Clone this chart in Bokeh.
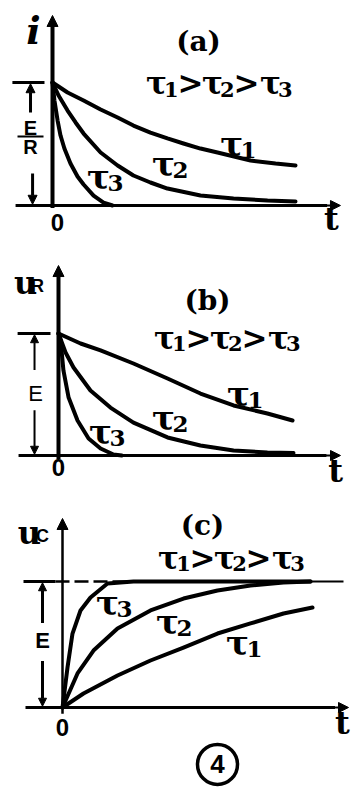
from bokeh.plotting import figure
from bokeh.layouts import column
from bokeh.models import Arrow, NormalHead, Range1d
from bokeh.core.properties import value
from bokeh.embed import file_html
from bokeh.resources import INLINE

# ---------------- data (E/R = E = 1, t in arbitrary units) -------------
# (a) current i
t_a1 = [0, 0.62, 1.28, 1.98, 2.68, 3.33, 4.03, 4.73, 5.39, 6.09, 6.79, 8.15, 9.18, 10.0]
i_a1 = [1.0, 0.919, 0.854, 0.780, 0.715, 0.650, 0.593, 0.545, 0.504, 0.463, 0.431, 0.366, 0.341, 0.325]
t_a2 = [0, 0.25, 0.62, 0.95, 1.28, 1.98, 2.68, 3.33, 4.03, 4.73, 6.09, 7.45, 8.85, 10.0]
i_a2 = [1.0, 0.894, 0.772, 0.675, 0.585, 0.431, 0.325, 0.244, 0.187, 0.138, 0.081, 0.057, 0.041, 0.033]
t_a3 = [0, 0.08, 0.21, 0.33, 0.49, 0.74, 1.03, 1.28, 1.69, 2.10, 2.47]
i_a3 = [1.0, 0.854, 0.691, 0.569, 0.463, 0.341, 0.236, 0.171, 0.081, 0.024, 0.0]

# (b) resistor voltage uR
t_b1 = [0, 0.94, 1.79, 3.19, 4.64, 6.04, 7.45, 8.89, 9.96]
u_b1 = [1.0, 0.918, 0.861, 0.754, 0.631, 0.508, 0.410, 0.344, 0.287]
t_b2 = [0, 0.30, 0.64, 1.36, 2.21, 3.19, 4.64, 6.04, 7.45, 8.89, 10.0]
u_b2 = [1.0, 0.844, 0.721, 0.533, 0.393, 0.270, 0.148, 0.082, 0.041, 0.025, 0.020]
t_b3 = [0, 0.09, 0.21, 0.43, 0.81, 1.28, 1.79, 2.34, 2.70]
u_b3 = [1.0, 0.943, 0.697, 0.475, 0.287, 0.139, 0.057, 0.008, 0.0]

# (c) capacitor voltage uC
t_c1 = [0, 0.84, 2.2, 3.52, 4.84, 6.2, 7.52, 8.84, 10.0]
u_c1 = [0, 0.111, 0.254, 0.373, 0.476, 0.587, 0.667, 0.746, 0.794]
t_c2 = [0, 0.6, 1.24, 2.2, 3.52, 4.84, 6.2, 7.52, 8.84, 9.92]
u_c2 = [0, 0.27, 0.452, 0.627, 0.77, 0.865, 0.929, 0.968, 0.992, 1.0]
t_c3 = [0, 0.2, 0.4, 0.72, 1.12, 1.8, 2.84, 9.92]
u_c3 = [0, 0.317, 0.587, 0.770, 0.873, 0.984, 1.0, 1.0]

panel_titles = ["(a)", "(b)", "(c)"]
tau_names = ["1", "2", "3"]

SERIF = "DejaVu Serif"
SANS = "Liberation Sans"
CW = 4  # curve width


def base_fig(h, xr, yr):
    p = figure(width=356, height=h, x_range=Range1d(*xr), y_range=Range1d(*yr),
               output_backend="svg", toolbar_location=None, min_border=0,
               x_axis_type=None, y_axis_type=None)
    p.grid.visible = False
    p.outline_line_color = None
    p.background_fill_color = "white"
    p.border_fill_color = "white"
    return p


def txt(p, x, y, s, size, font=SERIF, style="bold", xo=0, yo=0, align="center"):
    p.text(x=[x], y=[y], text=[s], text_font=value(font), text_font_size=f"{size}px",
           text_font_style=style, text_align=align, text_baseline="middle",
           x_offset=xo, y_offset=yo, text_color="black")


def arrow(p, x0, y0, x1, y1, w=3, size=10):
    p.add_layout(Arrow(end=NormalHead(size=size, fill_color="black", line_color="black", line_width=1),
                       x_start=x0, y_start=y0, x_end=x1, y_end=y1,
                       line_width=w, line_color="black"))


def tau(p, x, y, d, size=34, xo=0, yo=0):
    txt(p, x, y, "τ", size, xo=xo, yo=yo)
    txt(p, x, y, d, int(size * 0.68), xo=xo + int(size * 0.5), yo=yo + 6)


def ineq(p, x, y, size=31):
    tau(p, x, y, tau_names[0], size, xo=-64)
    txt(p, x, y, ">", size, xo=-30)
    tau(p, x, y, tau_names[1], size, xo=-8)
    txt(p, x, y, ">", size, xo=26)
    tau(p, x, y, tau_names[2], size, xo=50)


def curves(p, ts, vs):
    for t, v in zip(ts, vs):
        p.line(t, v, line_width=CW, line_color="black", line_cap="round", line_join="round")


# ---------------- panel (a) ----------------
pa = base_fig(245, (-2.14, 12.51), (-0.3252, 1.6667))
pa.line([-1.52, 11.3], [0, 0], line_width=3, line_color="black")
arrow(pa, 10.5, 0, 11.85, 0, w=2, size=10)
arrow(pa, 0, -0.02, 0, 1.545, w=4, size=11)
pa.line([-1.65, -0.33], [1, 1], line_width=3, line_color="black")
arrow(pa, -0.905, 0.756, -0.905, 0.99, w=3, size=9)
arrow(pa, -0.82, 0.26, -0.82, 0.01, w=3, size=9)
pa.line([-1.44, -0.37], [0.561, 0.561], line_width=2, line_color="black")
txt(pa, -0.905, 0.634, "E", 20, font=SANS)
txt(pa, -0.905, 0.472, "R", 20, font=SANS)
curves(pa, [t_a1, t_a2, t_a3], [i_a1, i_a2, i_a3])
txt(pa, 0.2, -0.138, "0", 24, font=SANS)
txt(pa, 11.48, -0.106, "t", 32)
txt(pa, -0.78, 1.423, "i", 38, style="bold italic")
txt(pa, 6.01, 1.333, panel_titles[0], 28)
ineq(pa, 6.91, 0.992)
tau(pa, 7.37, 0.504, tau_names[0])
tau(pa, 4.57, 0.341, tau_names[1])
tau(pa, 1.89, 0.228, tau_names[2])

# ---------------- panel (b) ----------------
pb = base_fig(250, (-2.468, 12.681), (-0.3279, 1.7213))
pb.line([-1.70, 11.4], [0, 0], line_width=3, line_color="black")
arrow(pb, 10.5, 0, 12.0, 0, w=2, size=10)
arrow(pb, 0, -0.03, 0, 1.557, w=4, size=11)
pb.line([-1.74, -0.34], [1, 1], line_width=3, line_color="black")
arrow(pb, -1.02, 0.70, -1.02, 0.99, w=2, size=8)
arrow(pb, -1.02, 0.37, -1.02, 0.01, w=2, size=8)
txt(pb, -0.98, 0.508, "E", 22, font=SANS, style="normal")
curves(pb, [t_b1, t_b2, t_b3], [u_b1, u_b2, u_b3])
txt(pb, 0.0, -0.098, "0", 24, font=SANS)
txt(pb, 11.79, -0.123, "t", 32)
txt(pb, -1.40, 1.418, "u", 32)
txt(pb, -0.89, 1.393, "R", 18, font=SANS)
txt(pb, 6.34, 1.270, panel_titles[1], 28)
ineq(pb, 7.23, 0.967)
tau(pb, 7.66, 0.5, tau_names[0])
tau(pb, 4.47, 0.311, tau_names[1])
tau(pb, 1.79, 0.189, tau_names[2])

# ---------------- panel (c) ----------------
pc = base_fig(313, (-2.48, 11.76), (-0.8016, 1.6825))
pc.line([-1.48, 10.9], [0, 0], line_width=3, line_color="black")
arrow(pc, 10.0, 0, 11.44, 0, w=2, size=10)
arrow(pc, 0, -0.05, 0, 1.50, w=2.5, size=11)
pc.line([-1.56, -0.28], [1, 1], line_width=3, line_color="black")
pc.line([-0.28, 3.0], [1, 1], line_width=2.5, line_color="black", line_dash="14 5")
pc.line([3.0, 11.24], [1, 1], line_width=2, line_color="black")
arrow(pc, -0.8, 0.67, -0.8, 0.99, w=3, size=8)
arrow(pc, -0.8, 0.37, -0.8, 0.01, w=3, size=8)
txt(pc, -0.8, 0.532, "E", 22, font=SANS)
curves(pc, [t_c1, t_c2, t_c3], [u_c1, u_c2, u_c3])
txt(pc, 0.0, -0.159, "0", 24, font=SANS)
txt(pc, 11.2, -0.127, "t", 32)
txt(pc, -1.32, 1.381, "u", 32)
txt(pc, -0.8, 1.365, "C", 18, font=SANS)
txt(pc, 5.6, 1.444, panel_titles[2], 28)
ineq(pc, 6.8, 1.19)
tau(pc, 1.8, 0.833, tau_names[2])
tau(pc, 4.2, 0.675, tau_names[1])
tau(pc, 7.0, 0.508, tau_names[0])
pc.scatter(x=[6.2], y=[-0.452], marker="circle", size=40, fill_color=None,
           line_color="black", line_width=3.5)
txt(pc, 6.2, -0.452, "4", 26, font=SANS)

layout = column(pa, pb, pc, spacing=0)
open("out.html", "w").write(file_html(layout, INLINE))
